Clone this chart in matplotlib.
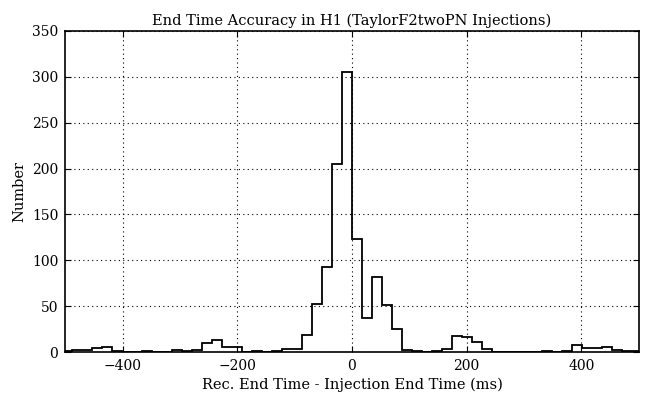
#!/usr/bin/env python3

import numpy as np
import matplotlib
matplotlib.use('Agg')
import matplotlib.pyplot as plt

# histogram of rec. end time - injection end time (ms)
bin_width = 17.44
bin_index = list(range(-29, 30))  # bin edges in units of bin_width
counts = [
    1, 2, 2, 4, 5, 1, 0, 0, 1, 0,        # -29 .. -20
    0, 2, 1, 2, 10, 13, 6, 5, 0, 1,      # -19 .. -10
    0, 1, 3, 3, 19, 52, 93, 205, 305,    # -9 .. -1
    123, 37, 82, 51, 25, 2, 1, 0, 1, 3,  # 0 .. 9
    17, 16, 11, 3, 0, 0, 0, 0, 0, 1,     # 10 .. 19
    0, 1, 8, 4, 4, 5, 2, 1, 1,           # 20 .. 28
]

title = 'End Time Accuracy in H1 (TaylorF2twoPN Injections)'
xlabel = 'Rec. End Time - Injection End Time (ms)'
ylabel = 'Number'

if __name__ == '__main__':
    plt.rcParams['font.family'] = ['DejaVu Serif']
    plt.rcParams['font.size'] = 10
    plt.rcParams['xtick.direction'] = 'in'
    plt.rcParams['ytick.direction'] = 'in'
    plt.rcParams['xtick.top'] = True
    plt.rcParams['ytick.right'] = True

    edges = np.array(bin_index) * bin_width

    fig = plt.figure(figsize=(6.46, 3.96), dpi=100)
    ax = fig.add_axes([0.101, 0.111, 0.8877, 0.811])
    ax.stairs(counts, edges, color='black', linewidth=1.3)

    ax.set_xlim(-500, 500)
    ax.set_ylim(0, 350)
    ax.set_xticks([-400, -200, 0, 200, 400])
    ax.set_yticks(range(0, 351, 50))
    ax.grid(True, color='black', linestyle=(0, (1, 3)), linewidth=0.8)
    ax.tick_params(length=4, width=0.8, pad=5)
    for s in ax.spines.values():
        s.set_linewidth(1.2)

    ax.set_title(title, fontsize=10.5, pad=4)
    ax.set_xlabel(xlabel, fontsize=10.5, labelpad=3)
    ax.set_ylabel(ylabel, fontsize=10.5)

    plt.savefig('out.png', dpi=100)
